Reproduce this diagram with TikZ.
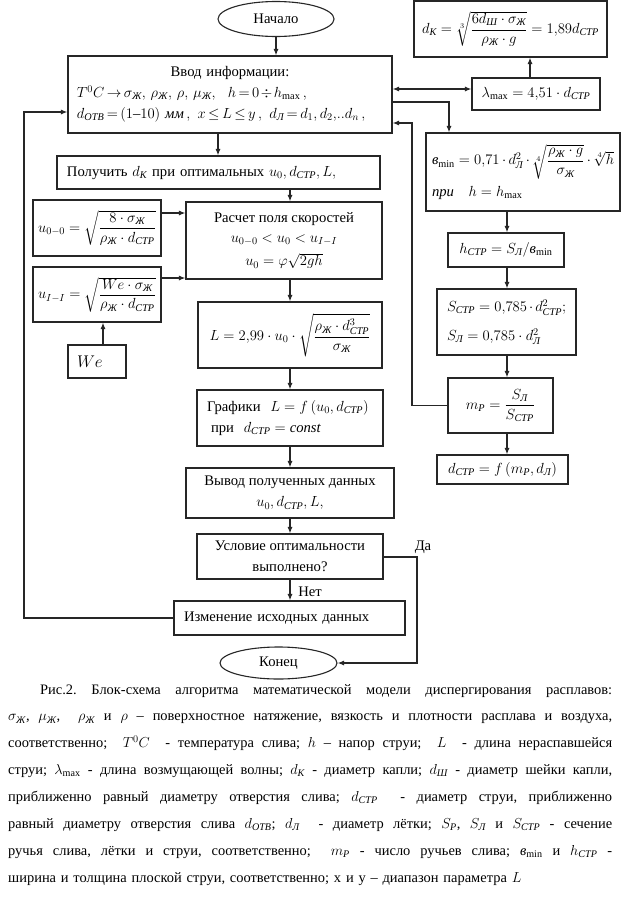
\RequirePackage{fix-cm}
\documentclass[tikz,border=0pt]{standalone}
\usepackage{amsmath}
\usepackage{fontspec}
\setmainfont{Liberation Serif}
\usetikzlibrary{arrows.meta,shapes.geometric}
\newcommand\cy[1]{\text{\normalfont\itshape #1}}
\newcommand\ZHs{\cy{Ж}}
\newcommand\STRs{\cy{СТР}}
\newcommand\Ls{\cy{Л}}
\newcommand\Ks{\cy{К}}
\newcommand\SHs{\cy{Ш}}
\newcommand\OTVs{\cy{ОТВ}}
\newcommand\Rs{\cy{Р}}
\newcommand\vmin{\cy{в}_{\min}}
\newcommand\capline[1]{\makebox[604bp][s]{\frenchspacing\spaceskip=0pt\xspaceskip=0pt #1}}
\tikzset{
  box/.style={draw=black!85, line width=1.1bp, inner sep=0pt, fill=white},
  lbox/.style={box, align=left, inner xsep=10bp},
  ln/.style={draw=black!85, line width=1.1bp},
  arr/.style={ln, -{Latex[length=6.5bp,width=5bp]}},
  arrb/.style={ln, {Latex[length=6.5bp,width=5bp]}-{Latex[length=6.5bp,width=5bp]}},
  lbl/.style={inner sep=0pt},
}
\begin{document}
\begin{tikzpicture}[x=1bp,y=1bp,font=\fontsize{14.7}{21}\selectfont]
\fill[white] (0,0) rectangle (623,-924);
\useasboundingbox (0,0) rectangle (623,-924);
% coordinates for connector columns/rows
\coordinate (cm) at (290,0);
\coordinate (cx1) at (218,0);
\coordinate (cr) at (507,0);
\coordinate (ya) at (0,-89);
\coordinate (yb) at (0,-102);
\coordinate (yc) at (0,-123);
\coordinate (xl) at (530,0);
\coordinate (xe) at (449,0);
\coordinate (xf) at (412,0);
\coordinate (yd) at (0,-213);
\coordinate (ye) at (0,-278);
\coordinate (xw) at (103,0);
\coordinate (xy) at (417,0);
\coordinate (yf) at (0,-557);
\coordinate (xg) at (24,0);
\coordinate (yg) at (0,-112);

% left / main column
\node[box, ellipse, minimum width=116bp, minimum height=35bp] (start) at (276,-19) {Начало};
\node[lbox, text width=306bp, inner xsep=9bp, minimum height=77bp] (input) at (230,-94.5)
 {\thickmuskip=3mu plus 1mu\medmuskip=2mu plus 1mu%
  \makebox[306bp][c]{Ввод информации:}\\
  \mbox{$T^0C\to\sigma_{\ZHs},\,\rho_{\ZHs},\,\rho,\,\mu_{\ZHs},\ \ h=0\div h_{\max}\,,$}\\
  \mbox{$d_{\OTVs}=(1\text{–}10)\ \cy{мм}\,,\ x\le L\le y\,,\ d_{\Ls}=d_1,d_2,\!..d_n\,,$}};
\node[lbox, text width=303bp, minimum height=33bp] (get) at (218.5,-172.5)
 {Получить $d_{\Ks}$ при оптимальных $u_0, d_{\STRs}, L,$};
\node[box, minimum width=128bp, minimum height=56bp] (u00) at (97,-228)
 {$u_{0-0}=\sqrt{\dfrac{8\cdot\sigma_{\ZHs}}{\rho_{\ZHs}\cdot d_{\STRs}}}$};
\node[box, minimum width=128bp, minimum height=55bp] (uII) at (97,-294.5)
 {$u_{I-I}=\sqrt{\dfrac{We\cdot\sigma_{\ZHs}}{\rho_{\ZHs}\cdot d_{\STRs}}}$};
\node[lbox, text width=40bp, inner xsep=9bp, minimum height=33bp] (we) at (97,-361.5)
 {\fontsize{17}{20}\selectfont $We$};
\node[box, align=center, minimum width=196bp, minimum height=77bp] (calc) at (284,-240.5)
 {Расчет поля скоростей\\[-1bp] $u_{0-0}<u_0<u_{I-I}$\\[3bp] $u_0=\varphi\sqrt{2gh}$};
\node[box, minimum width=184bp, minimum height=66bp] (Lbox) at (290,-335)
 {$L=2{,}99\cdot u_0\cdot\sqrt{\dfrac{\rho_{\ZHs}\cdot d^3_{\STRs}}{\sigma_{\ZHs}}}$};
\node[lbox, text width=166bp, minimum height=56bp] (graph) at (290,-418)
 {Графики \ $L=f\left(u_0,d_{\STRs}\right)$\\ \hspace*{4bp}при \ $d_{\STRs}=\mathit{const}$};
\node[box, align=center, minimum width=208bp, minimum height=50bp] (out) at (290,-493)
 {Вывод полученных данных\\ $u_0,d_{\STRs},L,$};
\node[box, align=center, minimum width=186bp, minimum height=45bp] (cond) at (290,-556.5)
 {Условие оптимальности\\ выполнено?};
\node[lbox, text width=211bp, minimum height=34bp] (change) at (289.5,-618)
 {Изменение исходных данных};
\node[box, ellipse, minimum width=117bp, minimum height=32bp] (end) at (278.5,-663) {Конец};

% right column
\node[box, minimum width=193bp, minimum height=56bp] (dk) at (510.5,-29)
 {$d_{\Ks}=\sqrt[3]{\dfrac{6d_{\SHs}\cdot\sigma_{\ZHs}}{\rho_{\ZHs}\cdot g}}=1{,}89d_{\STRs}$};
\node[box, minimum width=128bp, minimum height=32bp] (lam) at (536,-94)
 {$\lambda_{\max}=4{,}51\cdot d_{\STRs}$};
\node[lbox, text width=182bp, inner xsep=6bp, minimum height=78bp] (emin) at (523,-172)
 {$\vmin=0{,}71\cdot d^2_{\Ls}\cdot\sqrt[4]{\dfrac{\rho_{\ZHs}\cdot g}{\sigma_{\ZHs}}}\cdot\sqrt[4]{h}$\\[6bp]
  $\cy{при}\quad h=h_{\max}$};
\node[box, minimum width=116bp, minimum height=34bp] (hstr) at (506,-250)
 {$h_{\STRs}=S_{\Ls}/\vmin$};
\node[lbox, text width=119bp, minimum height=66bp] (sbox) at (506.5,-322)
 {$S_{\STRs}=0{,}785\cdot d^2_{\STRs};$\\[8bp] $S_{\Ls}=0{,}785\cdot d^2_{\Ls}$};
\node[box, minimum width=105bp, minimum height=55bp] (mp) at (500.5,-405.5)
 {$m_{\Rs}=\dfrac{S_{\Ls}}{S_{\STRs}}$};
\node[box, minimum width=131bp, minimum height=29bp] (dstr) at (502.5,-469.5)
 {$d_{\STRs}=f\left(m_{\Rs},d_{\Ls}\right)$};

% connectors
\draw[arr] (start.south) -- (start.south |- input.north);
\draw[arr] (input.south -| cx1) -- (get.north -| cx1);
\draw[arr] (get.south -| cm) -- (calc.north -| cm);
\draw[arr] (calc.south -| cm) -- (Lbox.north -| cm);
\draw[arr] (Lbox.south -| cm) -- (graph.north -| cm);
\draw[arr] (graph.south -| cm) -- (out.north -| cm);
\draw[arr] (out.south -| cm) -- (cond.north -| cm);
\draw[arr] (cond.south -| cm) -- (change.north -| cm);
\draw[arr] (u00.east |- yd) -- (calc.west |- yd);
\draw[arr] (uII.east |- ye) -- (calc.west |- ye);
\draw[arr] (we.north -| xw) -- (uII.south -| xw);
\draw[arrb] (input.east |- ya) -- (lam.west |- ya);
\draw[arr] (lam.north -| xl) -- (dk.south -| xl);
\draw[arr] (input.east |- yb) -| (emin.north -| xe);
\draw[arr] (mp.west) -| (xf |- yc) -- (input.east |- yc);
\draw[arr] (emin.south -| cr) -- (hstr.north -| cr);
\draw[arr] (hstr.south -| cr) -- (sbox.north -| cr);
\draw[arr] (sbox.south -| cr) -- (mp.north -| cr);
\draw[arr] (mp.south -| cr) -- (dstr.north -| cr);
\draw[arr] (cond.east |- yf) -| (xy |- end.east) -- (end.east);
\draw[arr] (change.west) -| (xg |- yg) -- (input.west |- yg);
\node[lbl] (da) at (423,-547) {Да};
\node[lbl] (net) at (310,-592) {Нет};

% caption
\node[anchor=north west, inner sep=0pt, align=left, text width=604bp,
      font=\fontsize{14.5}{27}\selectfont] (cap) at (8,-684)
{\capline{\hspace*{32bp}Рис.2. Блок-схема алгоритма математической модели диспергирования расплавов:}\\
 \capline{$\sigma_{\ZHs}$, $\mu_{\ZHs}$, \ $\rho_{\ZHs}$ и $\rho$ – поверхностное натяжение, вязкость и плотности расплава и воздуха,}\\
 \capline{соответственно; \ $T^0C$ \ - температура слива; $h$ – напор струи; \ $L$ \ - длина нераспавшейся}\\
 \capline{струи; $\lambda_{\max}$ - длина возмущающей волны; $d_{\Ks}$ - диаметр капли; $d_{\SHs}$ - диаметр шейки капли,}\\
 \capline{приближенно равный диаметру отверстия слива; $d_{\STRs}$ \ - диаметр струи, приближенно}\\
 \capline{равный диаметру отверстия слива $d_{\OTVs}$; $d_{\Ls}$ \ - диаметр лётки; $S_{\Rs}$, $S_{\Ls}$ и $S_{\STRs}$ - сечение}\\
 \capline{ручья слива, лётки и струи, соответственно; \ $m_{\Rs}$ - число ручьев слива; $\vmin$ и $h_{\STRs}$ -}\\
 \makebox[604bp][l]{ширина и толщина плоской струи, соответственно; x и y – диапазон параметра $L$}};
\end{tikzpicture}
\end{document}
